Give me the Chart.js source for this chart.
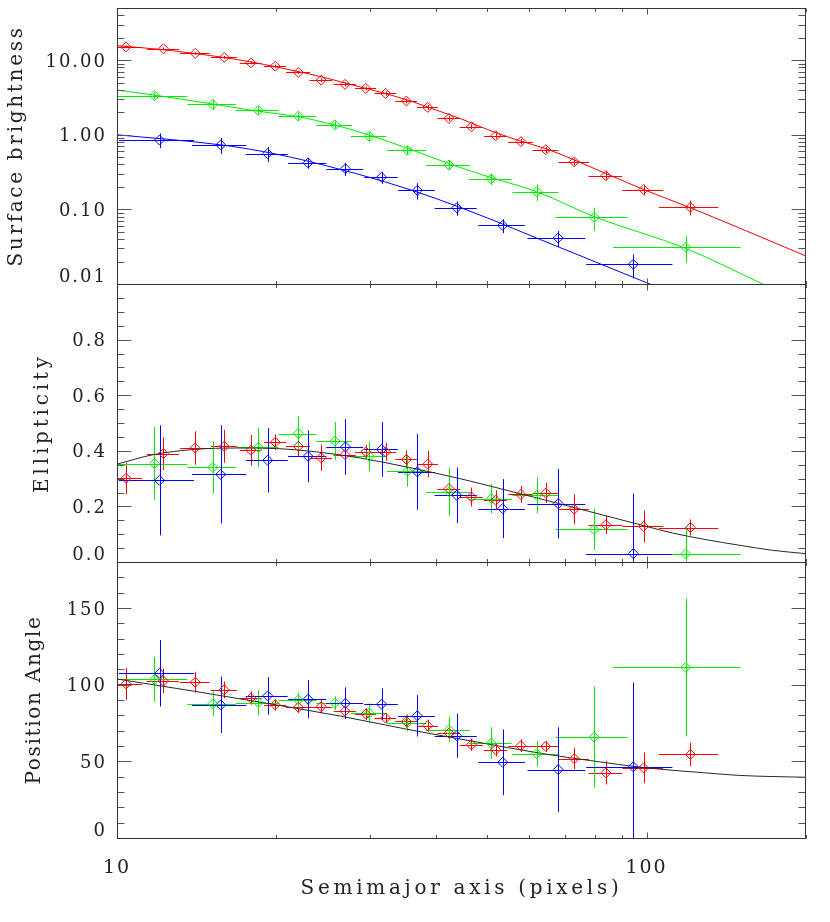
<!DOCTYPE html>
<html>
<head>
<meta charset="utf-8">
<script src="https://cdn.jsdelivr.net/npm/chart.js@4.4.1/dist/chart.umd.min.js"></script>
<style>
html, body { margin: 0; padding: 0; background: #ffffff; }
#wrap { position: relative; width: 830px; height: 922px; }
#wrap canvas { position: absolute; left: 0; top: 0; }
</style>
</head>
<body>
<div id="wrap">
  <canvas id="cSB" width="830" height="922"></canvas>
  <canvas id="cEll" width="830" height="922"></canvas>
  <canvas id="cPA" width="830" height="922"></canvas>
</div>
<script>
// ---------------- DATA ----------------
// Red series
const redRadius      = [10.4, 12.24, 14.05, 15.94, 17.9, 19.9, 22.0, 24.3, 26.95, 29.5, 32.15, 35.2, 38.6, 42.35, 46.7, 51.9, 57.9, 64.5, 73.0, 83.8, 98.7, 121];
const redRadiusErr   = [0.75, 0.85, 0.9, 0.9, 0.85, 0.95, 1.15, 1.2, 1.3, 1.35, 1.5, 1.65, 1.75, 2.1, 2.35, 2.6, 3.1, 3.6, 4.8, 6.1, 8.7, 15.5];
const redBrightness  = [15.06, 14.2, 12.3, 10.87, 9.2, 8.31, 6.84, 5.4, 4.73, 4.18, 3.58, 2.83, 2.33, 1.66, 1.28, 0.97, 0.81, 0.63, 0.435, 0.283, 0.184, 0.107];
const redBrightnessErr = [0.6, 0.6, 0.5, 0.5, 0.4, 0.4, 0.35, 0.3, 0.3, 0.25, 0.25, 0.2, 0.18, 0.13, 0.1, 0.08, 0.07, 0.06, 0.045, 0.036, 0.03, 0.024];
const redEllipticity = [0.301, 0.39, 0.41, 0.416, 0.402, 0.431, 0.416, 0.375, 0.386, 0.396, 0.396, 0.369, 0.352, 0.264, 0.234, 0.222, 0.243, 0.248, 0.19, 0.134, 0.128, 0.124];
const redEllipticityErr = [0.056, 0.059, 0.06, 0.059, 0.055, 0.028, 0.035, 0.047, 0.029, 0.025, 0.032, 0.033, 0.048, 0.042, 0.034, 0.036, 0.03, 0.036, 0.054, 0.033, 0.057, 0.029];
const redAngle       = [100.5, 102.4, 101.6, 96.6, 91.2, 86.8, 85.3, 85.7, 82.7, 80.8, 78.2, 76, 73.2, 68.4, 60.8, 57.6, 60.2, 59.7, 51.8, 42.5, 45.7, 54.5];
const redAngleErr    = [10.3, 8, 6.8, 5.4, 4.3, 3.8, 3.8, 4.5, 4.6, 3.8, 3.2, 4, 4, 4.9, 4, 4.3, 4.1, 3.6, 7, 7.6, 10, 7.6];

// Green series
const greenRadius      = [11.77, 15.17, 18.48, 22.0, 25.8, 29.95, 35.35, 42.35, 50.9, 62.0, 79.6, 118.5];
const greenRadiusErr   = [1.8, 1.6, 1.7, 1.8, 2.0, 2.3, 3.0, 4.0, 4.7, 6.2, 12.3, 32];
const greenBrightness  = [3.33, 2.55, 2.12, 1.78, 1.36, 0.95, 0.62, 0.394, 0.256, 0.173, 0.0783, 0.0312];
const greenBrightnessErr = [0.35, 0.4, 0.25, 0.2, 0.15, 0.12, 0.08, 0.06, 0.044, 0.043, 0.027, 0.012];
const greenEllipticity = [0.354, 0.34, 0.412, 0.462, 0.435, 0.38, 0.327, 0.253, 0.228, 0.24, 0.117, 0.029];
const greenEllipticityErr = [0.132, 0.094, 0.07, 0.063, 0.069, 0.053, 0.056, 0.087, 0.053, 0.064, 0.074, 0.1];
const greenAngle       = [103.5, 87.5, 88.3, 90, 87.9, 81.4, 75.3, 70.6, 61.9, 55, 65.8, 111.3];
const greenAngleErr    = [14.6, 8.1, 8, 4.9, 4.5, 6.5, 5.6, 8.1, 10.3, 8.3, 33, 45];

// Blue series
const blueRadius      = [12.03, 15.7, 19.25, 22.95, 27.0, 31.6, 36.9, 43.8, 53.5, 68.1, 94.4];
const blueRadiusErr   = [1.95, 1.85, 1.75, 1.9, 2.15, 2.3, 2.95, 4.0, 5.4, 8.5, 17.5];
const blueBrightness  = [0.85, 0.73, 0.56, 0.42, 0.35, 0.27, 0.18, 0.105, 0.061, 0.0413, 0.0184];
const blueBrightnessErr = [0.19, 0.18, 0.13, 0.07, 0.07, 0.05, 0.045, 0.023, 0.013, 0.01, 0.0065];
const blueEllipticity = [0.294, 0.315, 0.366, 0.38, 0.414, 0.405, 0.324, 0.24, 0.192, 0.21, 0.03];
const blueEllipticityErr = [0.198, 0.177, 0.116, 0.093, 0.1, 0.098, 0.136, 0.1, 0.106, 0.125, 0.216];
const blueAngle       = [107.4, 86.8, 92.7, 90.5, 87.9, 87.3, 79.7, 66.7, 49.4, 44.6, 46.4];
const blueAngleErr    = [21.6, 18.4, 12.2, 12.4, 10.3, 10.3, 13.5, 14.4, 21.4, 27.6, 55];

// Model curves
const redFitX   = [10, 12, 14, 16, 18, 20, 22.5, 25, 28, 32, 36, 40, 45, 50, 57, 65, 73, 84, 100, 121, 150, 200];
const redFitY   = [15.6, 14.0, 12.3, 10.8, 9.4, 8.1, 6.8, 5.7, 4.6, 3.6, 2.8, 2.15, 1.6, 1.18, 0.85, 0.64, 0.46, 0.30, 0.178, 0.105, 0.056, 0.0237];
const greenFitX = [10, 11.77, 15.17, 18.48, 22, 25.8, 29.95, 35.35, 42.35, 50.9, 62, 79.6, 118.5, 165.6, 175];
const greenFitY = [3.97, 3.4, 2.58, 2.07, 1.74, 1.35, 0.99, 0.66, 0.41, 0.266, 0.173, 0.080, 0.030, 0.010, 0.0083];
const blueFitX  = [10, 16, 20, 25, 32, 40, 50, 63, 80, 100, 110];
const blueFitY  = [1.0, 0.72, 0.55, 0.38, 0.235, 0.14, 0.077, 0.0394, 0.0198, 0.0104, 0.0079];
const ellFitX   = [10, 11.7, 14, 16.8, 20, 23.8, 28.4, 35.2, 44.4, 52.9, 67.7, 100, 112, 129, 150, 173, 200];
const ellFitY   = [0.352, 0.386, 0.405, 0.41, 0.408, 0.396, 0.376, 0.342, 0.3, 0.264, 0.212, 0.128, 0.104, 0.081, 0.06, 0.042, 0.03];
const paFitX    = [10, 14, 20, 26.4, 35.2, 47.1, 63.7, 78.3, 100, 129, 150, 200];
const paFitY    = [103.7, 95.7, 86.8, 79.5, 71, 63, 55, 50.5, 45.7, 42.5, 40.8, 39.6];

// Axis ticks
const xLabelTicks      = [10, 100];
const xMajorTickValues = [10, 100];
const xMinorTickValues = [20, 30, 40, 50, 60, 70, 80, 90, 200];
const sbLabelTicks     = [0.01, 0.1, 1, 10];
const sbMinorTickValues = [0.02, 0.03, 0.04, 0.05, 0.06, 0.07, 0.08, 0.09, 0.2, 0.3, 0.4, 0.5, 0.6, 0.7, 0.8, 0.9, 2, 3, 4, 5, 6, 7, 8, 9, 20, 30, 40];
const ellLabelTicks    = [0.0, 0.2, 0.4, 0.6, 0.8];
const ellMinorTickValues = [0.05, 0.1, 0.15, 0.25, 0.3, 0.35, 0.45, 0.5, 0.55, 0.65, 0.7, 0.75, 0.85, 0.9, 0.95];
const paLabelTicks     = [0, 50, 100, 150];
const paMinorTickValues = [10, 20, 30, 40, 60, 70, 80, 90, 110, 120, 130, 140, 160, 170];

const xTitle = 'Semimajor axis (pixels)';
const sbTitle = 'Surface brightness';
const ellTitle = 'Ellipticity';
const paTitle = 'Position Angle';

const RED = 'rgb(255,0,0)';
const GREEN = 'rgb(0,235,0)';
const BLUE = 'rgb(0,0,255)';
const FIT_GRAY = 'rgb(40,40,40)';

// ---------------- CHART SETUP ----------------
Chart.defaults.font.family = "'DejaVu Serif', 'Liberation Serif', serif";
Chart.defaults.color = '#222';
Chart.defaults.animation = false;

const LEFT = 117, RIGHT = 806;
const PANEL_BOUNDS = { sb: [8, 284], ell: [284, 562], pa: [562, 838] };

function pointsOf(xs, ys) { return xs.map((x, i) => ({ x: x, y: ys[i] })); }

function errSet(color, xs, xe, ys, ye) {
  return {
    type: 'scatter', data: pointsOf(xs, ys), errX: xe, errY: ye,
    borderColor: color, backgroundColor: 'rgba(0,0,0,0)',
    pointStyle: 'rectRot', pointRadius: 5, pointHoverRadius: 5, pointBorderWidth: 1,
    showLine: false
  };
}
function fitSet(color, xs, ys) {
  return {
    type: 'scatter', data: pointsOf(xs, ys), showLine: true, borderColor: color,
    borderWidth: 1, pointRadius: 0, cubicInterpolationMode: 'monotone', fill: false
  };
}

function textSpacing(yTitleSpacing) {
  return {
    id: 'textSpacing',
    beforeDraw(chart) { chart.ctx.letterSpacing = '2px'; },
    afterLayout(chart) {
      const y = chart.scales.y;
      if (!y._spacedTitle) {
        const orig = y.drawTitle;
        y.drawTitle = function () {
          const c = this.ctx; const prev = c.letterSpacing;
          c.letterSpacing = yTitleSpacing; orig.call(this); c.letterSpacing = prev;
        };
        y._spacedTitle = true;
      }
      const x = chart.scales.x;
      if (!x._spacedTitle) {
        const origX = x.drawTitle;
        x.drawTitle = function () {
          const c = this.ctx; const prev = c.letterSpacing;
          c.letterSpacing = '3.7px'; origX.call(this); c.letterSpacing = prev;
        };
        x._spacedTitle = true;
      }
    }
  };
}

const errorBars = {
  id: 'errorBars',
  beforeDatasetsDraw(chart) {
    const { ctx, chartArea: a, scales: { x, y } } = chart;
    ctx.save();
    ctx.beginPath(); ctx.rect(a.left, a.top, a.right - a.left, a.bottom - a.top); ctx.clip();
    ctx.lineWidth = 1;
    chart.data.datasets.forEach(ds => {
      if (!ds.errX) return;
      ctx.strokeStyle = ds.borderColor;
      ctx.beginPath();
      ds.data.forEach((p, i) => {
        const px = x.getPixelForValue(p.x), py = y.getPixelForValue(p.y);
        const x1 = x.getPixelForValue(Math.max(p.x - ds.errX[i], 1e-6)), x2 = x.getPixelForValue(p.x + ds.errX[i]);
        const yLo = p.y - ds.errY[i];
        const y1 = y.type === 'logarithmic' && yLo <= 0 ? a.bottom + 10 : y.getPixelForValue(yLo);
        const y2 = y.getPixelForValue(p.y + ds.errY[i]);
        const cy = Math.round(py) + 0.5, cx = Math.round(px) + 0.5;
        ctx.moveTo(x1, cy); ctx.lineTo(x2, cy);
        ctx.moveTo(cx, y1); ctx.lineTo(cx, y2);
      });
      ctx.stroke();
    });
    ctx.restore();
  }
};

function frameTicks(yMajor, yMinor) {
  return {
    id: 'frameTicks',
    afterDatasetsDraw(chart) {
      const { ctx, chartArea: a, scales: { x, y } } = chart;
      ctx.save();
      ctx.lineWidth = 1;
      ctx.strokeStyle = '#555';
      ctx.beginPath();
      const seg = (x1, y1, x2, y2) => { ctx.moveTo(x1, y1); ctx.lineTo(x2, y2); };
      const L = Math.round(a.left) + 0.5, R = Math.round(a.right) - 0.5;
      const T = Math.round(a.top) + 0.5, B = Math.round(a.bottom) + 0.5;
      yMajor.forEach(v => { const p = Math.round(y.getPixelForValue(v)) + 0.5; seg(L, p, L + 14, p); seg(R, p, R - 14, p); });
      yMinor.forEach(v => { const p = Math.round(y.getPixelForValue(v)) + 0.5; seg(L, p, L + 7, p); seg(R, p, R - 7, p); });
      xMajorTickValues.forEach(v => { const p = Math.round(x.getPixelForValue(v)) + 0.5; seg(p, T, p, T + 6); seg(p, B, p, B - 6); });
      xMinorTickValues.forEach(v => { const p = Math.round(x.getPixelForValue(v)) + 0.5; seg(p, T, p, T + 3.5); seg(p, B, p, B - 3.5); });
      ctx.stroke();
      ctx.strokeStyle = '#333';
      ctx.strokeRect(L, T, R - L, B - T);
      ctx.restore();
    }
  };
}

function xScale(show) {
  return {
    type: 'logarithmic', min: 10, max: 200, display: show,
    grid: { display: false }, border: { display: false },
    afterBuildTicks: s => { s.ticks = xLabelTicks.map(v => ({ value: v })); },
    afterFit: s => { if (show) { s.height = 84; } else { s.height = 0; } s.paddingLeft = 0; s.paddingRight = 0; },
    ticks: { callback: v => String(v), font: { size: 19 }, padding: 11, maxRotation: 0, autoSkip: false, color: '#222' },
    title: { display: show, text: xTitle, font: { size: 20 }, padding: { top: 0, bottom: 21 }, color: '#222' }
  };
}

function yScale(type, min, max, labelTicks, fmt, title, titlePad) {
  return {
    type: type, min: min, max: max,
    grid: { display: false }, border: { display: false },
    afterBuildTicks: s => { s.ticks = labelTicks.map(v => ({ value: v })); },
    afterFit: s => { s.width = LEFT; s.paddingTop = 0; s.paddingBottom = 0; },
    ticks: {
      callback: (v) => (v === min ? [fmt(v), ''] : fmt(v)),
      font: { size: 18, lineHeight: 1.0 }, padding: 2, labelOffset: 2, autoSkip: false, color: '#222'
    },
    title: { display: true, text: title, font: { size: 20 }, padding: { top: titlePad }, color: '#222' }
  };
}

function makeChart(id, bounds, datasets, yCfg, showX, yMajor, yMinor, titleSpacing) {
  return new Chart(document.getElementById(id), {
    type: 'scatter',
    data: { datasets: datasets },
    options: {
      responsive: false, devicePixelRatio: 1, animation: false,
      layout: { padding: { left: 0, right: 830 - RIGHT, top: bounds[0], bottom: showX ? 0 : 922 - bounds[1] } },
      plugins: { legend: { display: false }, tooltip: { enabled: false } },
      events: [],
      scales: { x: xScale(showX), y: yCfg }
    },
    plugins: [textSpacing(titleSpacing), errorBars, frameTicks(yMajor, yMinor)]
  });
}

makeChart('cSB', PANEL_BOUNDS.sb, [
  errSet(RED, redRadius, redRadiusErr, redBrightness, redBrightnessErr),
  errSet(GREEN, greenRadius, greenRadiusErr, greenBrightness, greenBrightnessErr),
  errSet(BLUE, blueRadius, blueRadiusErr, blueBrightness, blueBrightnessErr),
  fitSet(RED, redFitX, redFitY),
  fitSet(GREEN, greenFitX, greenFitY),
  fitSet(BLUE, blueFitX, blueFitY)
], yScale('logarithmic', 0.01, 50, sbLabelTicks, v => Number(v).toFixed(2), sbTitle, 5), false, sbLabelTicks, sbMinorTickValues, '2.7px');

makeChart('cEll', PANEL_BOUNDS.ell, [
  errSet(RED, redRadius, redRadiusErr, redEllipticity, redEllipticityErr),
  errSet(GREEN, greenRadius, greenRadiusErr, greenEllipticity, greenEllipticityErr),
  errSet(BLUE, blueRadius, blueRadiusErr, blueEllipticity, blueEllipticityErr),
  fitSet(FIT_GRAY, ellFitX, ellFitY)
], yScale('linear', 0, 1.0, ellLabelTicks, v => Number(v).toFixed(1), ellTitle, 31), false, ellLabelTicks, ellMinorTickValues, '3.8px');

makeChart('cPA', PANEL_BOUNDS.pa, [
  errSet(RED, redRadius, redRadiusErr, redAngle, redAngleErr),
  errSet(GREEN, greenRadius, greenRadiusErr, greenAngle, greenAngleErr),
  errSet(BLUE, blueRadius, blueRadiusErr, blueAngle, blueAngleErr),
  fitSet(FIT_GRAY, paFitX, paFitY)
], yScale('linear', 0, 180, paLabelTicks, v => String(Math.round(v)), paTitle, 23), true, paLabelTicks, paMinorTickValues, '1.7px');
</script>
</body>
</html>
